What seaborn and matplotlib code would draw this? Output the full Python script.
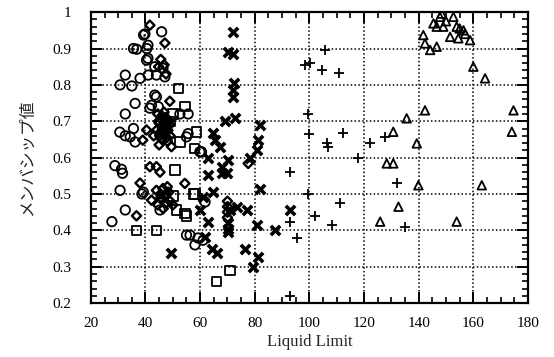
import pandas as pd
import seaborn as sns
from matplotlib import pyplot as plt
from matplotlib.ticker import MultipleLocator

# --- data (Liquid Limit vs membership value) ---
circle_x = [39.8, 45.9, 40.9, 40.9, 32.6, 30.7, 35.0, 38.0, 36.2, 32.6, 44.0, 41.6, 35.6, 30.6, 32.6,
            34.4, 36.2, 28.8, 31.2, 31.6, 30.7, 32.6, 27.7, 45.3, 40.4, 43.4, 46.4, 41.0, 44.0, 47.1,
            43.4, 42.2, 44.7, 52.6, 55.6, 55.6, 60.5, 55.0, 59.9, 56.3, 59.2, 55.0, 58.1, 61.1, 61.8]
circle_y = [0.940, 0.946, 0.909, 0.873, 0.827, 0.800, 0.797, 0.818, 0.749, 0.720, 0.767, 0.736, 0.680, 0.670, 0.660,
            0.657, 0.643, 0.578, 0.568, 0.557, 0.510, 0.456, 0.424, 0.456, 0.868, 0.850, 0.846, 0.827, 0.827, 0.822,
            0.772, 0.744, 0.740, 0.720, 0.720, 0.666, 0.616, 0.657, 0.616, 0.387, 0.379, 0.387, 0.360, 0.373, 0.478]

dotcircle_x = [35.6, 36.8, 39.3, 40.5, 38.7, 39.2]
dotcircle_y = [0.900, 0.898, 0.937, 0.900, 0.500, 0.505]

diamond_x = [41.6, 47.1, 45.6, 44.8, 46.8, 47.5, 40.4, 39.0, 48.9, 44.5, 46.0, 47.5, 48.5, 45.0, 46.5,
             48.0, 44.0, 45.5, 47.0, 49.0, 46.0, 48.0, 45.0, 49.5, 43.0, 38.0, 41.6, 44.0, 45.3, 42.2,
             36.7, 54.4, 44.0, 45.5, 47.0, 48.5, 46.0, 47.5, 49.0, 44.5, 46.5, 48.0, 50.0, 77.6, 70.0,
             70.0, 70.0, 70.0, 45.8, 47.2, 48.2, 46.2, 44.8, 47.8, 45.2, 46.8, 48.8, 47.6, 45.6, 46.4]
diamond_y = [0.964, 0.915, 0.870, 0.850, 0.855, 0.830, 0.676, 0.648, 0.755, 0.720, 0.715, 0.710, 0.700, 0.695, 0.690,
             0.685, 0.675, 0.670, 0.665, 0.660, 0.650, 0.645, 0.635, 0.630, 0.660, 0.530, 0.575, 0.575, 0.560, 0.483,
             0.440, 0.529, 0.510, 0.500, 0.495, 0.505, 0.485, 0.475, 0.480, 0.470, 0.460, 0.520, 0.470, 0.584, 0.480,
             0.465, 0.450, 0.435, 0.705, 0.700, 0.675, 0.680, 0.700, 0.655, 0.660, 0.725, 0.690, 0.500, 0.490, 0.515]

square_x = [52.0, 54.4, 58.7, 52.6, 58.0, 58.1, 55.0, 50.8, 50.1, 51.4, 54.4, 36.7, 44.0, 66.0, 70.9,
            57.5, 49.0, 50.0]
square_y = [0.790, 0.740, 0.670, 0.643, 0.625, 0.500, 0.440, 0.566, 0.494, 0.456, 0.447, 0.400, 0.400, 0.260, 0.290,
            0.500, 0.700, 0.720]

cross_x = [72.1, 70.3, 71.9, 72.5, 72.1, 72.1, 69.1, 72.7, 81.9, 64.8, 65.4, 67.3, 81.3, 80.7, 78.2,
           63.0, 70.3, 67.9, 63.0, 67.9, 69.7, 81.9, 64.8, 61.1, 59.9, 63.0, 70.9, 73.4, 77.0, 70.3,
           70.3, 70.3, 80.7, 87.4, 92.9, 61.8, 64.2, 66.0, 76.4, 81.3, 79.5, 49.5]
cross_y = [0.946, 0.890, 0.886, 0.804, 0.786, 0.767, 0.700, 0.710, 0.690, 0.667, 0.648, 0.630, 0.648, 0.620, 0.598,
           0.598, 0.593, 0.575, 0.552, 0.557, 0.557, 0.515, 0.506, 0.492, 0.456, 0.424, 0.456, 0.465, 0.456, 0.420,
           0.405, 0.395, 0.414, 0.400, 0.456, 0.382, 0.350, 0.337, 0.350, 0.327, 0.300, 0.337]

plus_x = [105.7, 100.2, 98.4, 104.5, 110.9, 99.5, 100.0, 106.3, 106.9, 112.4, 122.2, 127.7, 117.9, 92.9, 132.0,
          99.6, 111.2, 102.0, 108.2, 135.0, 92.9, 95.3, 92.9]
plus_y = [0.897, 0.859, 0.854, 0.840, 0.833, 0.720, 0.665, 0.639, 0.630, 0.668, 0.640, 0.657, 0.600, 0.560, 0.529,
          0.500, 0.474, 0.440, 0.414, 0.410, 0.424, 0.378, 0.220]

tri_x = [145.4, 146.6, 147.8, 149.0, 148.4, 152.7, 153.9, 151.5, 154.5, 156.4, 158.8, 141.7, 142.3, 144.2, 146.6,
         160.0, 164.3, 142.3, 174.7, 174.1, 135.6, 130.7, 139.3, 128.3, 130.7, 139.9, 163.1, 132.6, 125.9, 153.9,
         155.0, 157.0, 150.0]
tri_y = [0.969, 0.960, 0.987, 0.960, 0.996, 0.987, 0.960, 0.932, 0.928, 0.950, 0.923, 0.937, 0.914, 0.896, 0.905,
         0.850, 0.818, 0.730, 0.730, 0.671, 0.708, 0.671, 0.639, 0.584, 0.584, 0.524, 0.524, 0.465, 0.424, 0.424,
         0.955, 0.940, 0.975]

sns.set_style("ticks")
plt.rcParams["font.family"] = ["Liberation Serif", "Noto Sans CJK JP"]

fig, ax = plt.subplots(figsize=(5.54, 3.57), dpi=100)
fig.subplots_adjust(left=0.164, right=0.953, top=0.966, bottom=0.151)

open_kw = dict(facecolors="none", edgecolors="black", linewidth=1.3, ax=ax, zorder=3)
sns.scatterplot(x=circle_x, y=circle_y, marker="o", s=46, **open_kw)
sns.scatterplot(x=dotcircle_x, y=dotcircle_y, marker="o", s=46, **open_kw)
sns.scatterplot(x=dotcircle_x, y=dotcircle_y, marker="o", s=3, color="black", linewidth=0, ax=ax, zorder=4)
sns.scatterplot(x=diamond_x, y=diamond_y, marker="D", s=22, facecolors="none", edgecolors="black",
                linewidth=1.7, ax=ax, zorder=3)
sns.scatterplot(x=square_x, y=square_y, marker="s", s=46, **open_kw)
sns.scatterplot(x=tri_x, y=tri_y, marker="^", s=38, **open_kw)
sns.scatterplot(x=cross_x, y=cross_y, marker="x", s=45, color="black", linewidth=2.6, ax=ax, zorder=3)
sns.scatterplot(x=plus_x, y=plus_y, marker="+", s=55, color="black", linewidth=1.3, ax=ax, zorder=3)

ax.set_xlim(20, 180)
ax.set_ylim(0.2, 1.0)
ax.xaxis.set_major_locator(MultipleLocator(20))
ax.xaxis.set_minor_locator(MultipleLocator(5))
ax.yaxis.set_major_locator(MultipleLocator(0.1))
ax.yaxis.set_minor_locator(MultipleLocator(0.02))
ax.set_yticks([0.2, 0.3, 0.4, 0.5, 0.6, 0.7, 0.8, 0.9, 1.0])
ax.set_yticklabels(["0.2", "0.3", "0.4", "0.5", "0.6", "0.7", "0.8", "0.9", "1"])

ax.grid(True, which="major", color="black", linestyle=(0, (1, 1.5)), linewidth=1.1)
ax.tick_params(which="both", direction="in", top=True, right=True, colors="black", labelsize=11)
ax.tick_params(which="major", length=8, width=1.4)
ax.tick_params(which="minor", length=4, width=1.2)
ax.tick_params(axis="x", pad=10)
ax.tick_params(axis="y", pad=14)
for sp in ax.spines.values():
    sp.set_linewidth(1.6)
    sp.set_color("black")

ax.set_xlabel("Liquid Limit", fontsize=12, labelpad=3)
ax.set_ylabel("メンバシップ値", fontsize=12, labelpad=12, family=["Noto Sans CJK JP", "DejaVu Sans"])

fig.savefig("out.png", dpi=100)
